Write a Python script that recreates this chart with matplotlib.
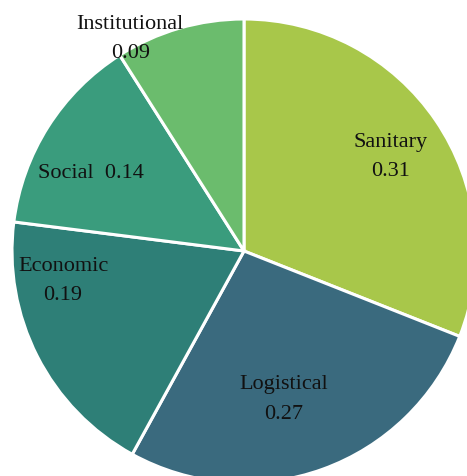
import matplotlib
matplotlib.use('Agg')
import matplotlib.pyplot as plt

# datos
categorias = ['Sanitary', 'Logistical', 'Economic', 'Social', 'Institutional']
valores = [0.31, 0.27, 0.19, 0.14, 0.09]
colores = ['#a8c74a', '#3a6a7e', '#2e7f77', '#3a9c7d', '#6bbc6d']

# posiciones de las etiquetas (coordenadas de datos, radio 1)
pos_etiquetas = [(0.63, 0.405), (0.17, -0.64), (-0.78, -0.13), (-0.66, 0.335), (-0.49, 0.913)]

plt.rcParams['font.family'] = ['Liberation Serif', 'DejaVu Serif']

fig = plt.figure(figsize=(4.67, 4.76), dpi=100)
ax = fig.add_axes([0, 0, 1, 1])
ax.pie(valores, colors=colores, startangle=90, counterclock=False,
       radius=1, wedgeprops=dict(edgecolor='white', linewidth=2.2))

for nombre, valor, (x, y) in zip(categorias, valores, pos_etiquetas):
    if nombre == 'Social':
        texto = f'{nombre}  {valor:.2f}'
    else:
        texto = f'{nombre}\n{valor:.2f}'
    ax.text(x, y, texto, ha='center', va='center', fontsize=16,
            linespacing=1.75, color='#111111')

ax.set_xlim(-244 / 232, (467 - 244) / 232)
ax.set_ylim((251 - 476) / 232, 251 / 232)
ax.set_aspect('auto')
ax.axis('off')

fig.savefig('out.png', dpi=100)
